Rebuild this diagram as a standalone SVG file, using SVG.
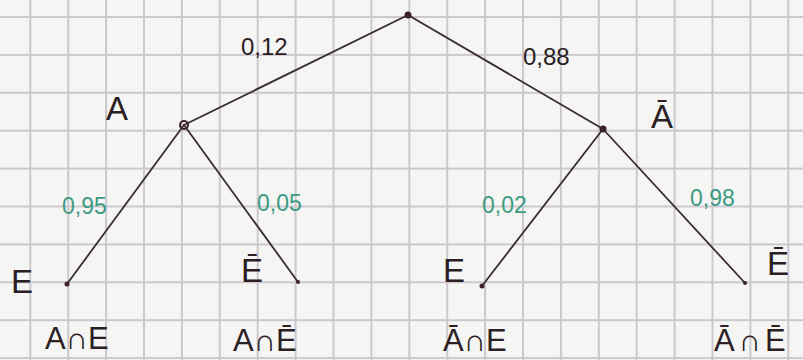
<svg xmlns="http://www.w3.org/2000/svg" width="803" height="360" viewBox="0 0 803 360">
  <defs>
    <pattern id="grid" patternUnits="userSpaceOnUse" x="29.3" y="16" width="37.9" height="37.9">
      <rect x="0" y="0" width="2" height="37.9" fill="#cbc8ce"/>
      <rect x="0" y="0" width="37.9" height="2" fill="#cbc8ce"/>
    </pattern>
    <style>
      .edge { stroke: #3a2c30; stroke-width: 1.8; fill: none; stroke-linecap: round; }
      .dot { fill: #3a2228; }
      .ring { fill: none; stroke: #3a2228; stroke-width: 2; }
      .lbl { font-family: "Liberation Sans", "DejaVu Sans", sans-serif; fill: #2a2024; }
      .ev { font-size: 33px; }
      .cut { font-size: 31px; }
      .wide { letter-spacing: 4px; }
      .p1 { font-size: 24px; fill: #2a2024; }
      .p2 { font-size: 23px; fill: #3d9a82; }
    </style>
  </defs>
  <rect x="0" y="0" width="803" height="360" fill="#f5f5f3"/>
  <rect x="0" y="0" width="803" height="360" fill="url(#grid)"/>

  <g id="connectors">
    <line class="edge" x1="408" y1="15" x2="184" y2="125"/>
    <line class="edge" x1="408" y1="15" x2="603" y2="129"/>
    <line class="edge" x1="184" y1="125" x2="67" y2="284"/>
    <line class="edge" x1="184" y1="125" x2="298" y2="282"/>
    <line class="edge" x1="603" y1="129" x2="482" y2="286"/>
    <line class="edge" x1="603" y1="129" x2="745" y2="283"/>
    <text class="lbl p1" x="241" y="55">0,12</text>
    <text class="lbl p1" x="523" y="65">0,88</text>
    <text class="lbl p2" x="62" y="214">0,95</text>
    <text class="lbl p2" x="257" y="211">0,05</text>
    <text class="lbl p2" x="482" y="213">0,02</text>
    <text class="lbl p2" x="690" y="206">0,98</text>
  </g>

  <g id="root">
    <circle class="dot" cx="408" cy="15" r="3.5"/>
  </g>

  <g id="node-A">
    <circle class="ring" cx="184" cy="125" r="4"/>
    <text class="lbl ev" x="106" y="120">A</text>
  </g>

  <g id="node-notA">
    <circle class="dot" cx="603" cy="129" r="3.5"/>
    <text class="lbl ev" x="651" y="128">Ā</text>
  </g>

  <g id="leaf-A-E">
    <circle class="dot" cx="67" cy="284" r="2.5"/>
    <text class="lbl ev" x="11" y="293">E</text>
    <text class="lbl cut" x="45" y="349">A∩E</text>
  </g>

  <g id="leaf-A-notE">
    <circle class="dot" cx="298" cy="282" r="2"/>
    <text class="lbl ev" x="241" y="282">Ē</text>
    <text class="lbl cut" x="233" y="351">A∩Ē</text>
  </g>

  <g id="leaf-notA-E">
    <circle class="dot" cx="482" cy="286" r="2.5"/>
    <text class="lbl ev" x="443" y="282">E</text>
    <text class="lbl cut" x="443" y="351">Ā∩E</text>
  </g>

  <g id="leaf-notA-notE">
    <circle class="dot" cx="745" cy="283" r="2"/>
    <text class="lbl ev" x="767" y="275">Ē</text>
    <text class="lbl cut wide" x="714" y="351">Ā∩Ē</text>
  </g>
</svg>
